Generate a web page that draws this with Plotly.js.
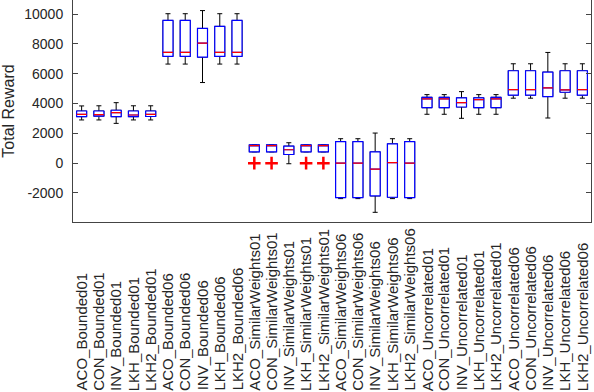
<!DOCTYPE html>
<html>
<head>
<meta charset="utf-8">
<script src="https://cdn.plot.ly/plotly-3.0.1.min.js"></script>
<style>
  html, body { margin: 0; padding: 0; background: #fff; }
  #plotArea { width: 594px; height: 392px; }
</style>
</head>
<body>
<div id="plotArea"></div>
<script>
// one box per method / instance pair
let categories = [
  "ACO_Bounded01", "CON_Bounded01", "INV_Bounded01", "LKH_Bounded01", "LKH2_Bounded01",
  "ACO_Bounded06", "CON_Bounded06", "INV_Bounded06", "LKH_Bounded06", "LKH2_Bounded06",
  "ACO_SimilarWeights01", "CON_SimilarWeights01", "INV_SimilarWeights01", "LKH_SimilarWeights01", "LKH2_SimilarWeights01",
  "ACO_SimilarWeights06", "CON_SimilarWeights06", "INV_SimilarWeights06", "LKH_SimilarWeights06", "LKH2_SimilarWeights06",
  "ACO_Uncorrelated01", "CON_Uncorrelated01", "INV_Uncorrelated01", "LKH_Uncorrelated01", "LKH2_Uncorrelated01",
  "ACO_Uncorrelated06", "CON_Uncorrelated06", "INV_Uncorrelated06", "LKH_Uncorrelated06", "LKH2_Uncorrelated06"
];

let lowerVals = [
  2900, 2900, 2670, 2900, 2900,
  6650, 6650, 5410, 6650, 6650,
  760, 760, -40, 760, 760,
  -2380, -2380, -3300, -2380, -2380,
  3280, 3280, 3010, 3280, 3280,
  4360, 4360, 3030, 4360, 4360
];
let q1Vals = [
  3120, 3150, 3120, 3120, 3130,
  7160, 7160, 7120, 7160, 7160,
  760, 760, 580, 760, 760,
  -2310, -2310, -2200, -2290, -2310,
  3720, 3720, 3770, 3720, 3720,
  4560, 4560, 4470, 4760, 4560
];
let medianVals = [
  3280, 3260, 3390, 3230, 3280,
  7430, 7430, 8060, 7430, 7430,
  1170, 1170, 900, 1170, 1170,
  0, 0, -400, 40, 0,
  4310, 4310, 4060, 4260, 4310,
  4940, 4940, 5050, 4920, 4940
];
let q3Vals = [
  3500, 3500, 3550, 3500, 3500,
  9580, 9580, 9040, 9180, 9580,
  1230, 1230, 1140, 1230, 1230,
  1440, 1440, 760, 1300, 1440,
  4420, 4420, 4380, 4380, 4420,
  6200, 6200, 6110, 6200, 6200
];
let upperVals = [
  3840, 3850, 4060, 3850, 3850,
  10030, 10030, 10240, 10030, 10030,
  1250, 1250, 1370, 1250, 1250,
  1640, 1640, 2020, 1640, 1640,
  4600, 4600, 4800, 4600, 4600,
  6670, 6670, 7430, 6670, 6670
];

let outlierX = ["ACO_SimilarWeights01", "CON_SimilarWeights01", "LKH_SimilarWeights01", "LKH2_SimilarWeights01"];
let outlierY = [0, 0, 0, 0];

let boxWidth = 0.58;

// black whiskers (box part gets covered by the blue one)
let whiskers = {
  type: "box",
  x: categories,
  q1: q1Vals, median: medianVals, q3: q3Vals,
  lowerfence: lowerVals, upperfence: upperVals,
  width: boxWidth,
  whiskerwidth: 0.5,
  line: {color: "black", width: 1},
  fillcolor: "white",
  boxpoints: false,
  hoverinfo: "skip"
};

// blue boxes only
let boxes = {
  type: "box",
  x: categories,
  q1: q1Vals, median: medianVals, q3: q3Vals,
  lowerfence: q1Vals, upperfence: q3Vals,
  width: boxWidth,
  whiskerwidth: 0,
  line: {color: "#0000ff", width: 1.2},
  fillcolor: "white",
  boxpoints: false,
  hoverinfo: "skip"
};

// red median line
let medians = {
  type: "box",
  x: categories,
  q1: medianVals, median: medianVals, q3: medianVals,
  lowerfence: medianVals, upperfence: medianVals,
  width: boxWidth,
  whiskerwidth: 0,
  line: {color: "#ff0000", width: 1.2},
  fillcolor: "rgba(0,0,0,0)",
  boxpoints: false,
  hoverinfo: "skip"
};

let outliers = {
  type: "scatter",
  mode: "markers",
  x: outlierX,
  y: outlierY,
  marker: {symbol: "cross-thin", size: 9, line: {color: "#ff0000", width: 2.5}},
  hoverinfo: "skip"
};

// the category labels sit on a common baseline at the bottom (matlab style),
// so they are annotations instead of plotly tick labels
let labelNotes = categories.map(c => ({
  x: c,
  y: -0.765,
  xref: "x",
  yref: "paper",
  text: c,
  textangle: -90,
  showarrow: false,
  xanchor: "center",
  yanchor: "bottom",
  borderpad: 0,
  font: {size: 15, color: "#262626"}
}));

let layout = {
  width: 594,
  height: 392,
  margin: {l: 73, r: 3, t: 0, b: 170},
  paper_bgcolor: "white",
  plot_bgcolor: "white",
  showlegend: false,
  boxmode: "overlay",
  font: {family: "Liberation Sans, Arial, sans-serif", size: 14, color: "#262626"},
  annotations: labelNotes,
  xaxis: {
    type: "category",
    range: [-0.5, 29.5],
    showticklabels: false,
    ticks: "",
    showgrid: false,
    zeroline: false,
    showline: true,
    linecolor: "#444",
    linewidth: 1,
    mirror: true,
    automargin: false
  },
  yaxis: {
    title: {text: "Total Reward", font: {size: 16, color: "#262626"}, standoff: 8},
    range: [-3950, 10950],
    tickvals: [-2000, 0, 2000, 4000, 6000, 8000, 10000],
    ticktext: ["-2000", "0", "2000", "4000", "6000", "8000", "10000"],
    tickfont: {size: 14, color: "#262626"},
    ticks: "inside",
    ticklen: 5,
    tickcolor: "#444",
    ticklabelstandoff: 6,
    showgrid: false,
    zeroline: false,
    showline: true,
    linecolor: "#444",
    linewidth: 1,
    mirror: "ticks",
    automargin: false
  }
};

Plotly.newPlot("plotArea", [whiskers, boxes, medians, outliers], layout, {staticPlot: true});
</script>
</body>
</html>
